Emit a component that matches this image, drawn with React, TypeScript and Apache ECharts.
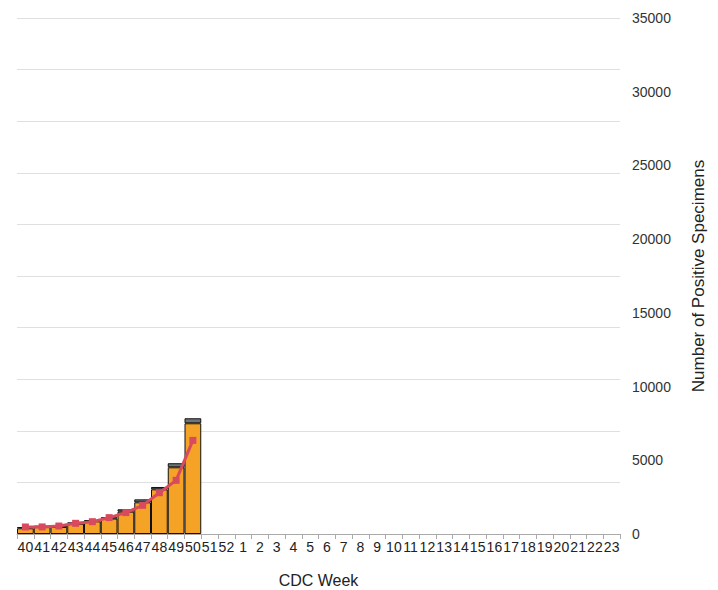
import React, { useEffect, useRef } from "react";
import * as echarts from "echarts";

const weeks = [
  "40", "41", "42", "43", "44", "45", "46", "47", "48", "49", "50", "51", "52",
  "1", "2", "3", "4", "5", "6", "7", "8", "9", "10", "11", "12", "13", "14",
  "15", "16", "17", "18", "19", "20", "21", "22", "23",
];
const orangeValues = [390, 470, 480, 700, 860, 1050, 1515, 2150, 3030, 4525, 7510];
const grayValues = [85, 95, 85, 90, 90, 80, 160, 200, 160, 275, 340];
const lineValues = [475, 480, 540, 725, 835, 1110, 1450, 1945, 2800, 3640, 6350];
const rightTicks = { min: 0, max: 35000, interval: 5000 };
const gridTicks = { min: 0, max: 35000, interval: 3500 };

export default function App() {
  const ref = useRef<HTMLDivElement>(null);
  useEffect(() => {
    if (!ref.current) return;
    const chart = echarts.init(ref.current, null, { renderer: "svg" });
    const font = "Liberation Sans, Arial, sans-serif";
    chart.setOption({
      animation: false,
      textStyle: { fontFamily: font },
      grid: { left: 9, right: 98, top: 10, bottom: 56, outerBoundsMode: "none", containLabel: false },
      xAxis: {
        type: "category",
        data: weeks,
        boundaryGap: true,
        name: "CDC Week",
        nameLocation: "middle",
        nameGap: 38,
        nameTextStyle: { fontSize: 16, color: "#222", fontFamily: font },
        axisLine: { lineStyle: { color: "#aaa" } },
        axisTick: { show: true, length: 5, lineStyle: { color: "#aaa" }, interval: 0 },
        axisLabel: { interval: 0, fontSize: 14, color: "#222", margin: 6, fontFamily: font },
      },
      yAxis: [
        {
          type: "value",
          position: "right",
          min: rightTicks.min,
          max: rightTicks.max,
          interval: rightTicks.interval,
          name: "Number of Positive Specimens",
          nameLocation: "middle",
          nameGap: 70,
          nameTextStyle: { fontSize: 17, color: "#222", fontFamily: font },
          axisLine: { show: false },
          axisTick: { show: false },
          splitLine: { show: false },
          axisLabel: {
            fontSize: 14,
            color: "#333",
            margin: 12,
            fontFamily: font,
            formatter: (v: number) => String(v),
          },
        },
        {
          type: "value",
          position: "left",
          min: gridTicks.min,
          max: gridTicks.max,
          interval: gridTicks.interval,
          axisLine: { show: false },
          axisTick: { show: false },
          axisLabel: { show: false },
          splitLine: { show: true, lineStyle: { color: "#e0e0e0" } },
        },
      ],
      series: [
        {
          type: "bar",
          stack: "total",
          data: orangeValues,
          barCategoryGap: "0%",
          itemStyle: { color: "#f5a327", borderColor: "#111", borderWidth: 1 },
        },
        {
          type: "bar",
          stack: "total",
          data: grayValues,
          barCategoryGap: "0%",
          itemStyle: { color: "#6f7576", borderColor: "#111", borderWidth: 1 },
        },
        {
          type: "line",
          data: lineValues,
          symbol: "rect",
          symbolSize: 7,
          lineStyle: { color: "#d84a5e", width: 3 },
          itemStyle: { color: "#d84a5e" },
          z: 5,
        },
      ],
    });
    return () => chart.dispose();
  }, []);
  return <div ref={ref} style={{ width: 710, height: 582 }} />;
}
